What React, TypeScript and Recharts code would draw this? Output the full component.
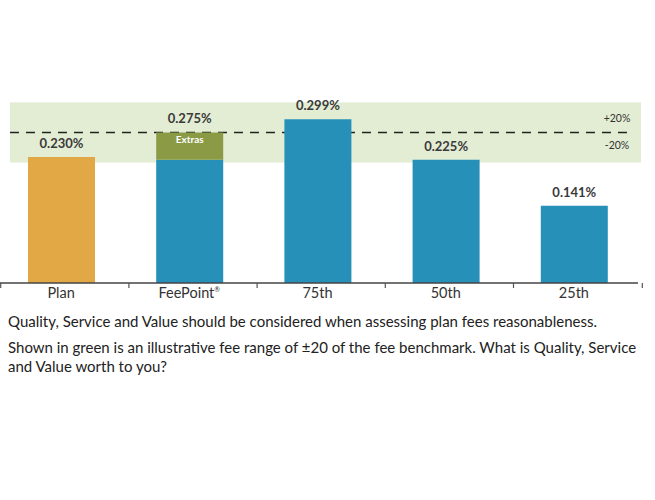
import React from "react";
import {
  BarChart,
  Bar,
  XAxis,
  YAxis,
  Cell,
  LabelList,
  ReferenceArea,
  ReferenceLine,
} from "recharts";

const categories = ["Plan", "FeePoint®", "75th", "50th", "25th"];
const baseValues = [0.23, 0.225, 0.299, 0.225, 0.141];
const extrasValues = [0, 0.05, 0, 0, 0];
const totalLabels = ["0.230%", "0.275%", "0.299%", "0.225%", "0.141%"];
const extrasLabels = ["", "Extras", "", "", ""];
const barColors = ["#E2A846", "#2690B9", "#2690B9", "#2690B9", "#2690B9"];
const benchmark = 0.275;
const rangeLow = 0.22;
const rangeHigh = 0.33;
const rangeLabels = ["+20%", "-20%"];
const captionLines = [
  "Quality, Service and Value should be considered when assessing plan fees reasonableness.",
  "Shown in green is an illustrative fee range of ±20 of the fee benchmark. What is Quality, Service and Value worth to you?",
];

const data = categories.map((c, i) => ({
  name: c,
  base: baseValues[i],
  extras: extrasValues[i],
  baseTop: extrasValues[i] === 0 ? totalLabels[i] : "",
  extrasTop: extrasValues[i] !== 0 ? totalLabels[i] : "",
  extrasLabel: extrasLabels[i],
}));

const FONT = "Lato, 'Open Sans', sans-serif";

const CustomTick = (props: any) => {
  const { x, y, payload, index } = props;
  const half = 64.4;
  const label: string = payload.value;
  const hasReg = label.endsWith("®");
  const main = hasReg ? label.slice(0, -1) : label;
  return (
    <g>
      <line x1={x - half + 4} y1={y - 8} x2={x - half + 4} y2={y - 3} stroke="#555" strokeWidth={1.2} />
      {index === categories.length - 1 && (
        <line x1={x + half + 4} y1={y - 8} x2={x + half + 4} y2={y - 3} stroke="#555" strokeWidth={1.2} />
      )}
      <text x={x} y={y + 7} textAnchor="middle" fontFamily={FONT} fontSize={14.5} fill="#333">
        {main}
        {hasReg && (
          <tspan fontSize={7} dy={-6}>
            ®
          </tspan>
        )}
      </text>
    </g>
  );
};

const BandShape = (props: any) => {
  const { x, y, width, height } = props;
  return <rect x={x + 13} y={y} width={width - 10} height={height} fill="#E3EDD4" />;
};

const DashShape = (props: any) => {
  const { x1, y1, x2, y2 } = props;
  return (
    <line
      x1={x1 + 13}
      y1={y1}
      x2={x2 - 11}
      y2={y2}
      stroke="#222"
      strokeWidth={1.4}
      strokeDasharray="9 7"
    />
  );
};

const RangeLabel = (props: any) => {
  const vb = props.viewBox || {};
  const right = (vb.x || 0) + (vb.width || 0);
  const cx = right - 21;
  const y = vb.y || 0;
  return (
    <g>
      <text x={cx} y={y - 10} textAnchor="middle" fontFamily={FONT} fontSize={10.5} fill="#333">
        {rangeLabels[0]}
      </text>
      <text x={cx} y={y + 17} textAnchor="middle" fontFamily={FONT} fontSize={10.5} fill="#333">
        {rangeLabels[1]}
      </text>
    </g>
  );
};

const labelStyle = {
  fontFamily: FONT,
  fontSize: 13,
  fontWeight: 700,
  fill: "#3a3a3a",
};

export default function App() {
  const refLineProps: any = { zIndex: 200 };
  return (
    <div style={{ position: "absolute", left: 0, top: 0, width: 655, height: 500, background: "#fff" }}>
      <div style={{ position: "absolute", left: -3, top: 0 }}>
        <BarChart
          width={655}
          height={300}
          data={data}
          margin={{ top: 64, right: 14, bottom: 0, left: 0 }}
          barSize={67}
        >
          <YAxis hide domain={[0, 0.4]} />
          <ReferenceArea y1={rangeLow} y2={rangeHigh} shape={BandShape} ifOverflow="visible" />
          <ReferenceLine y={benchmark} shape={DashShape} label={<RangeLabel />} {...refLineProps} />
          <XAxis
            dataKey="name"
            height={17}
            axisLine={{ stroke: "#444", strokeWidth: 1.5 }}
            tickLine={false}
            tick={<CustomTick />}
            interval={0}
          />
          <Bar dataKey="base" stackId="a" isAnimationActive={false}>
            {data.map((d, i) => (
              <Cell key={d.name} fill={barColors[i]} />
            ))}
            <LabelList dataKey="baseTop" position="top" offset={9} {...labelStyle} />
          </Bar>
          <Bar dataKey="extras" stackId="a" fill="#8B9B45" isAnimationActive={false}>
            <LabelList dataKey="extrasTop" position="top" offset={9} {...labelStyle} />
            <LabelList
              dataKey="extrasLabel"
              position="insideTop"
              offset={3}
              fontFamily={FONT}
              fontSize={10}
              fontWeight={700}
              fill="#ffffff"
            />
          </Bar>
        </BarChart>
      </div>
      <div
        style={{
          position: "absolute",
          left: 8,
          top: 312,
          width: 635,
          fontFamily: FONT,
          fontSize: 15,
          color: "#222",
          lineHeight: "19px",
        }}
      >
        <div style={{ marginBottom: 7 }}>{captionLines[0]}</div>
        <div>{captionLines[1]}</div>
      </div>
    </div>
  );
}
